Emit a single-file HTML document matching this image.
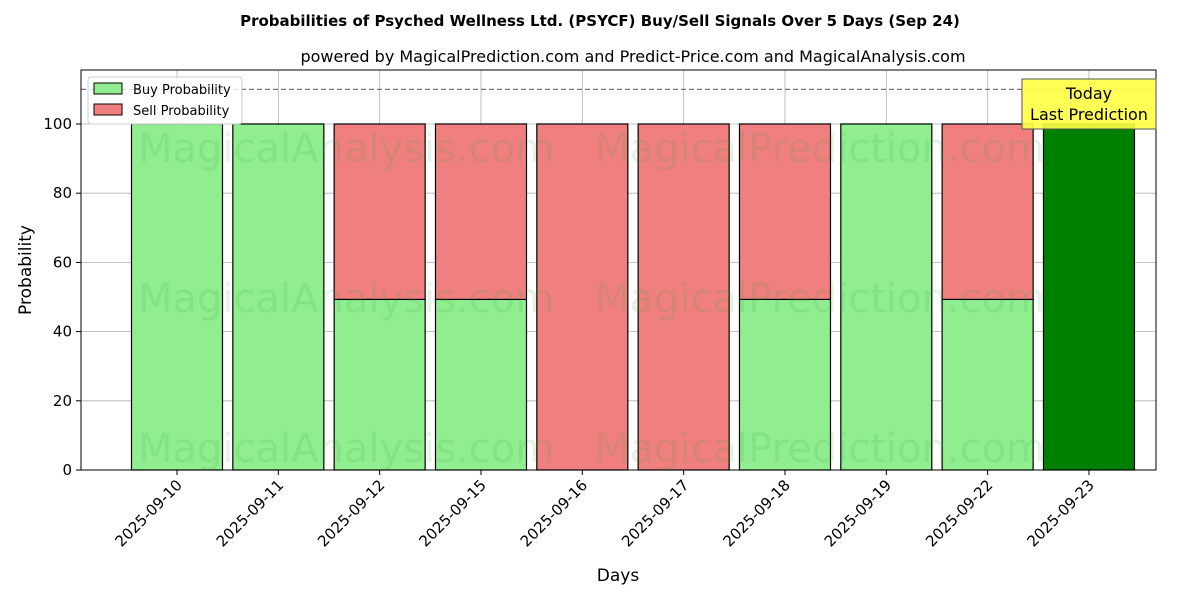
<!DOCTYPE html>
<html><head><meta charset="utf-8"><style>
body{margin:0;background:#fff;}
svg{display:block;font-family:"DejaVu Sans","Liberation Sans",sans-serif;}
</style></head><body>
<svg id="chart" width="1200" height="600" viewBox="0 0 1200 600" xmlns="http://www.w3.org/2000/svg">
<text x="600" y="26" text-anchor="middle" font-size="15" font-weight="bold">Probabilities of Psyched Wellness Ltd. (PSYCF) Buy/Sell Signals Over 5 Days (Sep 24)</text>
<text x="633" y="62" text-anchor="middle" font-size="16">powered by MagicalPrediction.com and Predict-Price.com and MagicalAnalysis.com</text>
<g id="grid"></g>
<g id="bars"></g>
<g id="wm" fill="#2ca02c" fill-opacity="0.13" font-size="40">
<text x="346" y="162" text-anchor="middle">MagicalAnalysis.com</text>
<text x="820" y="162" text-anchor="middle">MagicalPrediction.com</text>
<text x="346" y="312" text-anchor="middle">MagicalAnalysis.com</text>
<text x="820" y="312" text-anchor="middle">MagicalPrediction.com</text>
<text x="346" y="462" text-anchor="middle">MagicalAnalysis.com</text>
<text x="820" y="462" text-anchor="middle">MagicalPrediction.com</text>
</g>
<g id="axes"></g>
<text x="618" y="581" text-anchor="middle" font-size="17">Days</text>
<text transform="translate(31,270) rotate(-90)" text-anchor="middle" font-size="17">Probability</text>
<g>
<rect x="88" y="77" width="154" height="47" fill="#fff" fill-opacity="0.8" stroke="#ccc" rx="3"/>
<rect x="94" y="83" width="28" height="11" fill="#90ee90" stroke="#000"/>
<text x="133" y="94" font-size="13">Buy Probability</text>
<rect x="94" y="104" width="28" height="11" fill="#f08080" stroke="#000"/>
<text x="133" y="115" font-size="13">Sell Probability</text>
</g>
<g>
<rect x="1022" y="79" width="134" height="50" fill="#ffff44" fill-opacity="0.9" stroke="#555"/>
<text x="1089" y="99" text-anchor="middle" font-size="16">Today</text>
<text x="1089" y="120" text-anchor="middle" font-size="16">Last Prediction</text>
</g>
</svg>
<script>
const categories=["2025-09-10","2025-09-11","2025-09-12","2025-09-15","2025-09-16","2025-09-17","2025-09-18","2025-09-19","2025-09-22","2025-09-23"];
const buyValues=[100,100,49.3,49.3,0,0,49.3,100,49.3,100];
const sellValues=[0,0,50.7,50.7,100,100,50.7,0,50.7,0];
const yTicks=[0,20,40,60,80,100];
const threshold=110;
const NS="http://www.w3.org/2000/svg";
const L=81,R=1156,T=70,B=470;
const yMax=115.6;
const y=v=>B-(B-T)*v/yMax;
const step=101.33;
const x=i=>177+step*i;
const bw=91;
function mk(tag,attrs,parent){const e=document.createElementNS(NS,tag);for(const k in attrs)e.setAttribute(k,attrs[k]);parent.appendChild(e);return e;}
const grid=document.getElementById('grid'),bars=document.getElementById('bars'),axes=document.getElementById('axes');
yTicks.forEach(t=>{
 const g=mk('line',{x1:L,x2:R,y1:y(t),y2:y(t),stroke:'#b0b0b0','stroke-width':0.8},grid);
 
 
 mk('line',{x1:L-5,x2:L,y1:y(t),y2:y(t),stroke:'#000'},axes);
 const lb=mk('text',{x:L-9,y:y(t)+5,'text-anchor':'end','font-size':15},axes);
 lb.textContent=t;
 
 
});
categories.forEach((c,i)=>{
 const g=mk('line',{x1:x(i),x2:x(i),y1:T,y2:B,stroke:'#b0b0b0','stroke-width':0.8},grid);
 
 
 const last=i===categories.length-1;
 const b=mk('rect',{x:x(i)-bw/2,y:y(buyValues[i]),width:bw,height:y(0)-y(buyValues[i]),fill:last?'#008000':'#90ee90',stroke:'#000','stroke-width':1.2},bars);
 
 
 const s=mk('rect',{x:x(i)-bw/2,y:y(buyValues[i]+sellValues[i]),width:bw,height:y(buyValues[i])-y(buyValues[i]+sellValues[i]),fill:'#f08080',stroke:'#000','stroke-width':1.2},bars);
 
 
 mk('line',{x1:x(i),x2:x(i),y1:B,y2:B+5,stroke:'#000'},axes);
 const lb=mk('text',{transform:`translate(${x(i)+6},${B+16}) rotate(-45)`,'text-anchor':'end','font-size':15},axes);
 lb.textContent=c;
 
 
});
const th=mk('line',{x1:L,x2:R,y1:y(threshold),y2:y(threshold),stroke:'#777','stroke-dasharray':'5,3','stroke-width':1.2},axes);


const fr=mk('rect',{x:L,y:T,width:R-L,height:B-T,fill:'none',stroke:'#000','stroke-width':1},axes);


</script>
</body></html>
